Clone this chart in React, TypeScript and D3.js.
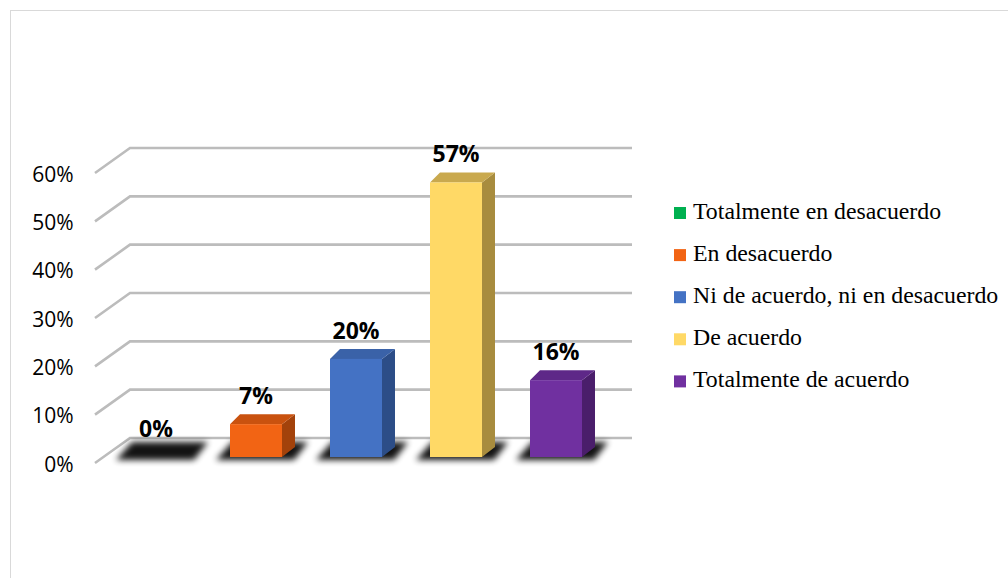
import React from "react";
import * as d3 from "d3";

// datos
const categories = [
  "Totalmente en desacuerdo",
  "En desacuerdo",
  "Ni de acuerdo, ni en desacuerdo",
  "De acuerdo",
  "Totalmente de acuerdo",
];
const values = [0, 0.068, 0.203, 0.568, 0.159];
const yTicks = [0, 0.1, 0.2, 0.3, 0.4, 0.5, 0.6];

const frontColors = ["#00b050", "#f26414", "#4472c4", "#ffd966", "#7030a0"];
const topColors = ["#008a3e", "#c9520f", "#3a62a8", "#c9a94e", "#5e2888"];
const sideColors = ["#006b30", "#a3420b", "#2c4d87", "#a88c3e", "#4a1e6b"];

const W = 1008;
const H = 578;

// pared del fondo / perspectiva
const backX0 = 130;
const backX1 = 632;
const frontDx = -35;
const frontDy = 25;
const depthDx = 13;
const depthDy = -10;

const App: React.FC = () => {
  const yBack = d3.scaleLinear().domain([0, 0.6]).range([438, 148]);
  const yBar = d3.scaleLinear().domain([0, 0.6]).range([457, 167]);
  const x = d3
    .scaleBand<string>()
    .domain(categories)
    .range([106, 606])
    .paddingInner(0.48)
    .paddingOuter(0.24);
  const bw = x.bandwidth();
  const fmt = d3.format(".0%");

  const pts = (p: [number, number][]) => p.map((d) => d.join(",")).join(" ");

  return (
    <svg
      width={W}
      height={H}
      style={{ position: "absolute", left: 0, top: 0, background: "#fff" }}
    >
      <defs>
        <filter id="blur" x="-30%" y="-80%" width="160%" height="260%">
          <feGaussianBlur stdDeviation="3.2" />
        </filter>
      </defs>

      {/* marco */}
      <rect x={10.5} y={10.5} width={1010} height={580} fill="none" stroke="#d9d9d9" />

      {/* líneas de cuadrícula 3D */}
      {yTicks.map((t) => {
        const yb = yBack(t);
        return (
          <g key={t}>
            <polyline
              points={pts([
                [backX0 + frontDx, yb + frontDy],
                [backX0, yb],
                [backX1, yb],
              ])}
              fill="none"
              stroke="#bcbcbc"
              strokeWidth={2.6}
            />
            <text
              x={73.5}
              y={yb + frontDy + 8.7}
              textAnchor="end"
              fontFamily="'Open Sans', sans-serif"
              fontSize={21}
              fill="#000"
            >
              {fmt(t)}
            </text>
          </g>
        );
      })}

      {/* sombras */}
      {categories.map((c) => {
        const x0 = x(c)!;
        return (
          <polygon
            key={"s" + c}
            points={pts([
              [x0 - 14, 460],
              [x0 + bw + 12, 460],
              [x0 + bw + 26, 442],
              [x0 + 2, 442],
            ])}
            fill="#000"
            opacity={0.92}
            filter="url(#blur)"
          />
        );
      })}

      {/* barras */}
      {categories.map((c, i) => {
        const v = values[i];
        if (v <= 0) return null;
        const x0 = x(c)!;
        const x1 = x0 + bw;
        const yt = yBar(v);
        const yb = yBar(0);
        return (
          <g key={"b" + c}>
            <polygon
              points={pts([
                [x1, yt],
                [x1 + depthDx, yt + depthDy],
                [x1 + depthDx, yb + depthDy],
                [x1, yb],
              ])}
              fill={sideColors[i]}
            />
            <polygon
              points={pts([
                [x0, yt],
                [x1, yt],
                [x1 + depthDx, yt + depthDy],
                [x0 + depthDx - 3, yt + depthDy],
              ])}
              fill={topColors[i]}
            />
            <rect x={x0} y={yt} width={bw} height={yb - yt} fill={frontColors[i]} />
          </g>
        );
      })}

      {/* etiquetas de datos */}
      {categories.map((c, i) => (
        <text
          key={"l" + c}
          x={x(c)! + bw / 2}
          y={yBar(values[i]) - 20}
          textAnchor="middle"
          fontFamily="'Open Sans', sans-serif"
          fontWeight={700}
          fontSize={23}
          fill="#000"
        >
          {fmt(values[i])}
        </text>
      ))}

      {/* leyenda */}
      {categories.map((c, i) => {
        const yl = 219 + i * 42.1;
        return (
          <g key={"g" + c}>
            <rect x={674} y={yl - 12} width={12} height={12} fill={frontColors[i]} />
            <text
              x={693}
              y={yl}
              fontFamily="'Liberation Serif', 'Times New Roman', serif"
              fontSize={23.8}
              fill="#000"
            >
              {c}
            </text>
          </g>
        );
      })}
    </svg>
  );
};

export default App;
